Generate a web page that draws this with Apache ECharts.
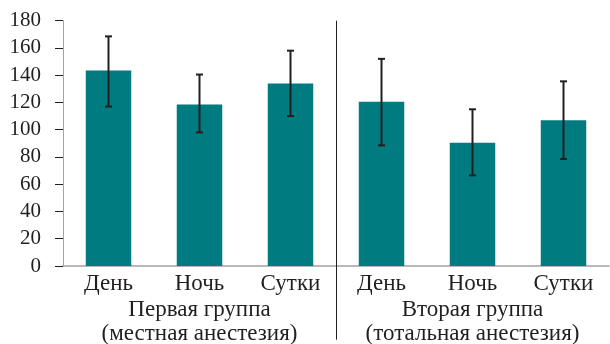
<!DOCTYPE html>
<html><head><meta charset="utf-8">
<script src="https://cdn.jsdelivr.net/npm/echarts@6/dist/echarts.min.js"></script>
<style>html,body{margin:0;padding:0;background:#fff}#c{width:610px;height:344px}</style>
</head><body><div id="c"></div>
<script>
const categories = ['День','Ночь','Сутки','День','Ночь','Сутки'];
const groups = ['Первая группа\n(местная анестезия)','Вторая группа\n(тотальная анестезия)'];
const means = [143.5, 118.5, 134, 120.5, 90.5, 107];
const errLow = [117, 98, 110, 88.5, 66.5, 78.5];
const errHigh = [168.5, 140.5, 158, 152, 115, 135.5];
const yTicks = [0,20,40,60,80,100,120,140,160,180];
const groupBoundary = [3];

const font = '"Liberation Serif", "Times New Roman", serif';
const ink = '#231f20';
const chart = echarts.init(document.getElementById('c'));
chart.setOption({
  animation: false,
  grid: {left: 63, right: 1, top: 20.7, bottom: 78, containLabel: false, outerBoundsMode: 'none'},
  xAxis: [{
    type: 'category', data: categories, boundaryGap: true,
    axisLine: {lineStyle: {color: '#a3a3a3', width: 1.5}},
    axisTick: {length: 7, lineStyle: {color: ink, width: 1}},
    axisLabel: {fontFamily: font, fontSize: 23, color: ink, margin: 6, interval: 0, hideOverlap: false}
  }, {
    type: 'category', data: groups, position: 'bottom', boundaryGap: true,
    axisLine: {show: false},
    axisTick: {show: false},
    splitLine: {show: false},
    axisLabel: {fontFamily: font, fontSize: 23, color: ink, margin: 32, lineHeight: 24, interval: 0, hideOverlap: false}
  }, {
    type: 'value', position: 'top', min: 0, max: categories.length,
    axisLine: {show: false},
    axisLabel: {show: false},
    splitLine: {show: false},
    axisTick: {show: true, inside: true, length: 319, customValues: groupBoundary,
      lineStyle: {color: ink, width: 1}}
  }],
  yAxis: {
    type: 'value', min: yTicks[0], max: yTicks[yTicks.length-1], interval: 20,
    axisLine: {show: true, lineStyle: {color: '#a3a3a3', width: 1}},
    axisTick: {show: true, length: 8, lineStyle: {color: ink, width: 1}},
    splitLine: {show: false},
    axisLabel: {fontFamily: font, fontSize: 21, color: ink, margin: 22}
  },
  series: [{
    type: 'bar', data: means, barWidth: '50%', xAxisIndex: 0,
    itemStyle: {color: '#007b80'}, z: 2
  }, {
    type: 'custom', xAxisIndex: 0, z: 3,
    data: categories.map((c, i) => [i, errLow[i], errHigh[i]]),
    renderItem: function (params, api) {
      const lo = api.coord([api.value(0), api.value(1)]);
      const hi = api.coord([api.value(0), api.value(2)]);
      const hw = 3.5;
      const st = {stroke: ink, lineWidth: 2};
      return {type: 'group', children: [
        {type: 'line', shape: {x1: lo[0], y1: lo[1], x2: hi[0], y2: hi[1]}, style: st},
        {type: 'line', shape: {x1: lo[0]-hw, y1: lo[1], x2: lo[0]+hw, y2: lo[1]}, style: st},
        {type: 'line', shape: {x1: hi[0]-hw, y1: hi[1], x2: hi[0]+hw, y2: hi[1]}, style: st}
      ]};
    }
  }]
});
</script></body></html>
